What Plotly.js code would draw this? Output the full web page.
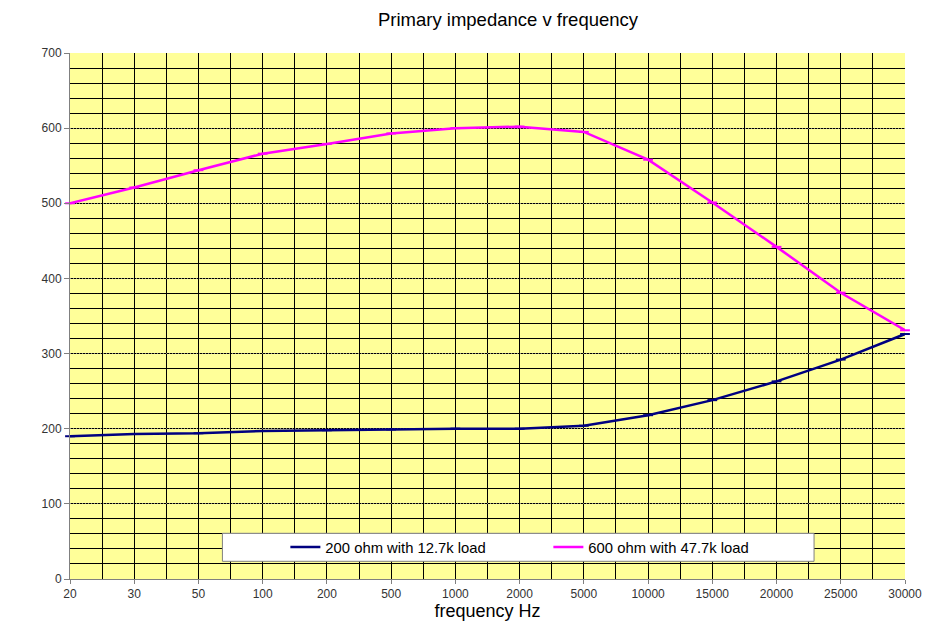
<!DOCTYPE html>
<html>
<head>
<meta charset="utf-8">
<script src="https://cdn.plot.ly/plotly-3.0.1.min.js"></script>
<style>html,body{margin:0;padding:0;background:#fff;}#chart{width:933px;height:621px;}</style>
</head>
<body>
<div id="chart"></div>
<script>
// Categories (frequency, Hz)
var freqLabels = ['20','30','50','100','200','500','1000','2000','5000','10000','15000','20000','25000','30000'];
// Series values (impedance, ohms)
var ohm200 = [190, 193, 194, 197, 198, 199, 200, 200, 204, 218, 238, 263, 292, 326];
var ohm600 = [500, 521, 544, 566, 579, 593, 600, 602, 595, 558, 501, 442, 381, 331];
var seriesNames = ['200 ohm with 12.7k load', '600 ohm with 47.7k load'];
var yTicks = [0, 100, 200, 300, 400, 500, 600, 700];

var xIdx = freqLabels.map(function(_, i){ return i; });
var FONT = '"Liberation Sans", Arial, sans-serif';

var traces = [
  {x: xIdx, y: ohm200, name: seriesNames[0], type: 'scatter', mode: 'lines+markers',
   line: {color: '#000080', width: 2.5},
   marker: {symbol: 'line-ew', size: 7, line: {color: '#000080', width: 2}},
   cliponaxis: false},
  {x: xIdx, y: ohm600, name: seriesNames[1], type: 'scatter', mode: 'lines+markers',
   line: {color: '#FF00FF', width: 2.5},
   marker: {symbol: 'line-ew', size: 7, line: {color: '#FF00FF', width: 2}},
   cliponaxis: false}
];

var L = 69.5, R = 905, T = 52.7, B = 578.7;
function px2x(p){ return (p - L) / (R - L); }
function px2y(p){ return (B - p) / (B - T); }

var layout = {
  width: 933, height: 621,
  margin: {l: L, r: 933 - R, t: T, b: 621 - B, pad: 0},
  paper_bgcolor: '#ffffff',
  plot_bgcolor: '#FFFF99',
  font: {family: FONT, color: '#333333', size: 12},
  title: {text: 'Primary impedance v frequency', font: {family: FONT, size: 18.5, color: '#000000'},
          x: 508/933, xref: 'container', xanchor: 'center', y: 1 - 20/621, yref: 'container', yanchor: 'middle'},
  showlegend: true,
  legend: {orientation: 'h', x: px2x(285), xanchor: 'left', y: px2y(547), yanchor: 'middle',
           bgcolor: 'rgba(0,0,0,0)', borderwidth: 0,
           font: {family: FONT, size: 14.8, color: '#000000'},
           entrywidth: 218, entrywidthmode: 'pixels', itemwidth: 30},
  xaxis: {
    range: [0, xIdx.length - 1], tickmode: 'array', tickvals: xIdx, ticktext: freqLabels,
    showgrid: true, gridcolor: '#000000', gridwidth: 1, zeroline: false,
    showline: true, linecolor: '#808080', linewidth: 1,
    ticks: 'outside', ticklen: 4, tickcolor: '#808080',
    tickfont: {family: FONT, size: 12, color: '#333333'},
    minor: {tickmode: 'linear', tick0: 0, dtick: 0.5, showgrid: true, gridcolor: '#000000', gridwidth: 1, griddash: 'solid', ticks: ''},
    title: {text: 'frequency Hz', font: {family: FONT, size: 18, color: '#000000'}, standoff: 4},
    fixedrange: true
  },
  yaxis: {
    range: [0, 700], tickmode: 'array', tickvals: yTicks,
    showgrid: true, gridcolor: '#8a8a8a', gridwidth: 1, griddash: '1px,2px', zeroline: false,
    showline: true, linecolor: '#808080', linewidth: 1,
    ticks: 'outside', ticklen: 5, tickcolor: '#808080',
    tickfont: {family: FONT, size: 12, color: '#333333'},
    minor: {tickmode: 'linear', tick0: 0, dtick: 20, showgrid: true, gridcolor: '#000000', gridwidth: 1, griddash: 'solid', ticks: ''},
    fixedrange: true
  },
  shapes: [
    {type: 'rect', xref: 'paper', yref: 'paper', x0: px2x(222), x1: px2x(814), y0: px2y(561), y1: px2y(533),
     fillcolor: '#ffffff', line: {color: '#808080', width: 1}, layer: 'above'}
  ]
};

Plotly.newPlot('chart', traces, layout, {displayModeBar: false, staticPlot: true});
</script>
</body>
</html>
